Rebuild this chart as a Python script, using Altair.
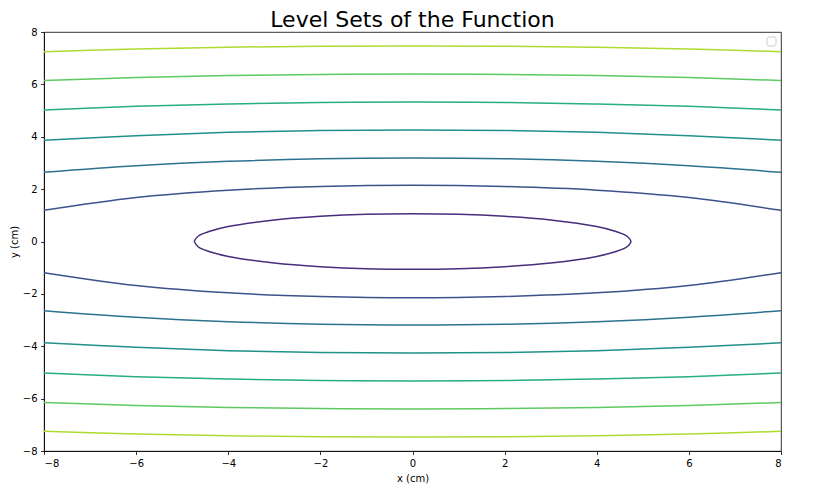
import altair as alt
import pandas as pd

# Level-set curves (upper halves; lower halves mirror them)
x_open = [-8, -6, -4, -2, 0, 2, 4, 6, 8]
level2_y = [1.19, 1.68, 1.96, 2.10, 2.15, 2.10, 1.96, 1.68, 1.19]
level3_y = [2.64, 2.89, 3.06, 3.16, 3.19, 3.16, 3.06, 2.89, 2.64]
level4_y = [3.87, 4.04, 4.17, 4.24, 4.26, 4.24, 4.17, 4.04, 3.87]
level5_y = [5.02, 5.16, 5.25, 5.31, 5.33, 5.31, 5.25, 5.16, 5.02]
level6_y = [6.15, 6.26, 6.34, 6.38, 6.40, 6.38, 6.34, 6.26, 6.15]
level7_y = [7.25, 7.35, 7.42, 7.46, 7.47, 7.46, 7.42, 7.35, 7.25]

# innermost closed ellipse (upper half)
x_ellipse = [-4.74, -4.65, -4.4, -4, -3, -2, -1, 0, 1, 2, 3, 4, 4.4, 4.65, 4.74]
y_ellipse = [0.0, 0.21, 0.39, 0.57, 0.82, 0.96, 1.04, 1.06, 1.04, 0.96, 0.82, 0.57, 0.39, 0.21, 0.0]

level_names = ["L1", "L2", "L3", "L4", "L5", "L6", "L7"]
level_colors = ["#472d7b", "#3b528b", "#2c728e", "#21918c", "#28ae80", "#5ec962", "#addc30"]
tick_values = [-8, -6, -4, -2, 0, 2, 4, 6, 8]

rows = []
# closed ellipse: top left->right, bottom right->left
order = 0
for xv, yv in zip(x_ellipse, y_ellipse):
    rows.append({"level": "L1", "curve": "L1", "x": xv, "y": yv, "o": order}); order += 1
for xv, yv in zip(reversed(x_ellipse[:-1]), reversed(y_ellipse[:-1])):
    rows.append({"level": "L1", "curve": "L1", "x": xv, "y": -yv, "o": order}); order += 1

for name, ys in zip(level_names[1:], [level2_y, level3_y, level4_y, level5_y, level6_y, level7_y]):
    for sign, tag in [(1, "u"), (-1, "d")]:
        for i, (xv, yv) in enumerate(zip(x_open, ys)):
            rows.append({"level": name, "curve": name + tag, "x": xv, "y": sign * yv, "o": i})

df = pd.DataFrame(rows)

label_expr = "datum.value < 0 ? '\u2212' + abs(datum.value) : '' + datum.value"

lines = alt.Chart(df).mark_line(strokeWidth=1.5, interpolate="catmull-rom").encode(
    x=alt.X("x:Q", scale=alt.Scale(domain=[-8, 8], nice=False, zero=False),
            axis=alt.Axis(values=tick_values, title="x (cm)", labelExpr=label_expr)),
    y=alt.Y("y:Q", scale=alt.Scale(domain=[-8, 8], nice=False, zero=False),
            axis=alt.Axis(values=tick_values, title="y (cm)", labelExpr=label_expr)),
    color=alt.Color("level:N", scale=alt.Scale(domain=level_names, range=level_colors), legend=None),
    detail="curve:N",
    order="o:Q",
)

legend_box = alt.Chart(pd.DataFrame({"a": [0]})).mark_rect(
    fill="white", stroke="#cccccc", strokeWidth=1, cornerRadius=2
).encode(x=alt.value(723), x2=alt.value(732), y=alt.value(5), y2=alt.value(14))

chart = alt.layer(lines, legend_box).properties(
    width=737, height=419,
    title=alt.TitleParams("Level Sets of the Function", fontSize=22, font="DejaVu Sans",
                          fontWeight="normal", color="#000000", anchor="middle", offset=6, dy=11),
    autosize=alt.AutoSizeParams(type="none"),
    padding={"left": 36, "top": 24, "right": 20, "bottom": 40},
).configure_view(stroke="#000000", strokeWidth=0.8).configure_axis(
    grid=False, domainColor="#000000", domainWidth=0.8, tickColor="#000000", tickWidth=0.8,
    tickSize=3.5, labelPadding=3.5, labelFont="DejaVu Sans", labelFontSize=10,
    labelColor="#000000", titleFont="DejaVu Sans", titleFontSize=10, titleFontWeight="normal",
    titleColor="#000000"
).configure_axisX(titlePadding=5).configure_axisY(titlePadding=3)

chart.save("out.html", embed_options={"renderer": "svg", "actions": False})
